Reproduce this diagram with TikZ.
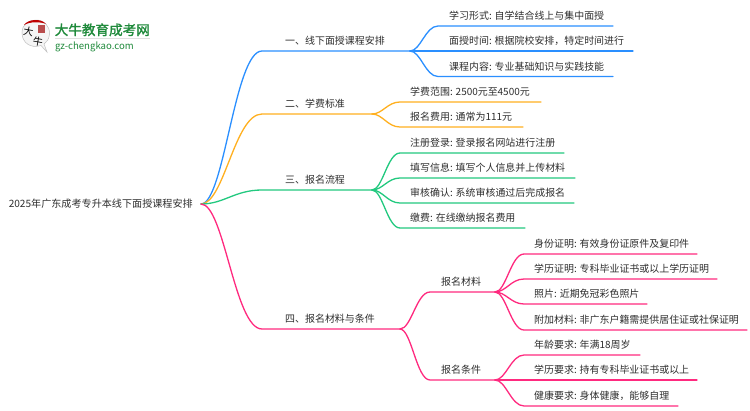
\documentclass[tikz,border=0pt]{standalone}
\usepackage{fontspec}
\setmainfont{Noto Sans CJK SC}
\definecolor{cblue}{HTML}{2A8FFF}
\definecolor{corange}{HTML}{FFB020}
\definecolor{cgreen}{HTML}{22C97F}
\definecolor{cpink}{HTML}{FF2A7F}
\definecolor{ctext}{HTML}{2E2E2E}
\definecolor{clogo}{HTML}{1F8A3B}
\usetikzlibrary{calc}
\tikzset{
  lab/.style={anchor=base west,inner sep=0pt,text=ctext,font=\fontsize{9.95}{12}\selectfont},
  wire/.style={line width=1.3pt,line cap=round,line join=round},
}
% #1 name, #2 colour, #3 fork node, #4 curve end x, #5 y, #6 line end x, #7 text x, #8 text
\newcommand\branch[8]{%
  \coordinate (#1s) at (#4,#5);
  \coordinate (#1e) at (#6,#5);
  \coordinate (#1p) at ($(#3)!0.38!(#1s)$);
  \coordinate (#1q) at ($(#3)!0.55!(#1s)$);
  \node[lab] (#1) at (#7,#5-6.5) {#8};
  \draw[wire,#2] (#3) .. controls (#1p |- #3) and (#1q |- #1s) .. (#1s) -- (#1e);
}
\begin{document}
\begin{tikzpicture}[x=1pt,y=-1pt]
\useasboundingbox (0,0) rectangle (750,410);
\fill[white] (0,0) rectangle (750,410);
% logo
\fill[black!4,draw=black!25,line width=.5pt] (47,52) -- (41,45.5) .. controls (30,49) and (22,42) .. (22,33) .. controls (22,24) and (29,20) .. (36,20) .. controls (44,20) and (50,26) .. (49.5,34) .. controls (49,39) and (47,42) .. (44,44) -- cycle;
\fill[red!75!black] (24,25) .. controls (28,19) and (41,18) .. (46,24) .. controls (40,21.5) and (30,21.5) .. (24,25) -- cycle;
\fill[red!60!black!70] (38,25) rectangle (45,33);
\node[inner sep=0pt,font=\fontsize{10}{12}\selectfont,rotate=-10] (logoa) at (28.5,31.5) {大};
\node[inner sep=0pt,font=\fontsize{10}{12}\selectfont,rotate=-10] (logob) at (38,41.5) {牛};
\node[anchor=base west,inner sep=0pt,text=clogo,font=\fontsize{13.6}{14}\selectfont\addfontfeature{FakeBold=1.5}] (logoc) at (54.5,35) {大牛教育成考网};
\draw[black!12,line width=.8pt] (55,38.5) -- (150,38.5);
\node[anchor=base west,inner sep=0pt,text=clogo,font=\fontsize{9.6}{10}\selectfont] (logod) at (55,49) {gz-chengkao.com};
% root
\node[lab,anchor=base east,font=\fontsize{10.1}{12}\selectfont] (root) at (193,207.5) {2025年广东成考专升本线下面授课程安排};
\coordinate (r) at (201,204);
% level 1
\branch{b1}{cblue}{r}{262}{51}{410}{285}{一、线下面授课程安排}
\branch{b2}{corange}{r}{262}{114}{372}{285}{二、学费标准}
\branch{b3}{cgreen}{r}{262}{190}{372}{285}{三、报名流程}
\branch{b4}{cpink}{r}{262}{329}{400}{285}{四、报名材料与条件}
% leaves
\branch{a1}{cblue}{b1e}{438}{26}{613}{449}{学习形式: 自学结合线上与集中面授}
\branch{a2}{cblue}{b1e}{438}{51}{633}{449}{面授时间: 根据院校安排，特定时间进行}
\branch{a3}{cblue}{b1e}{438}{76.5}{613}{449}{课程内容: 专业基础知识与实践技能}
\branch{c1}{corange}{b2e}{400}{102}{541}{410}{学费范围: 2500元至4500元}
\branch{c2}{corange}{b2e}{400}{127}{523}{410}{报名费用: 通常为111元}
\branch{d1}{cgreen}{b3e}{400}{153}{564}{410}{注册登录: 登录报名网站进行注册}
\branch{d2}{cgreen}{b3e}{400}{178}{575}{410}{填写信息: 填写个人信息并上传材料}
\branch{d3}{cgreen}{b3e}{400}{203}{574}{410}{审核确认: 系统审核通过后完成报名}
\branch{d4}{cgreen}{b3e}{400}{228}{525}{410}{缴费: 在线缴纳报名费用}
\branch{e1}{cpink}{b4e}{430}{292}{495}{441}{报名材料}
\branch{e2}{cpink}{b4e}{430}{380}{495}{441}{报名条件}
\branch{f1}{cpink}{e1e}{524}{254}{697}{534}{身份证明: 有效身份证原件及复印件}
\branch{f2}{cpink}{e1e}{524}{279}{717}{534}{学历证明: 专科毕业证书或以上学历证明}
\branch{f3}{cpink}{e1e}{524}{304}{647}{534}{照片: 近期免冠彩色照片}
\branch{f4}{cpink}{e1e}{524}{330}{747}{534}{附加材料: 非广东户籍需提供居住证或社保证明}
\branch{g1}{cpink}{e2e}{524}{355}{640}{534}{年龄要求: 年满18周岁}
\branch{g2}{cpink}{e2e}{524}{380}{697}{534}{学历要求: 持有专科毕业证书或以上}
\branch{g3}{cpink}{e2e}{524}{406}{678}{534}{健康要求: 身体健康，能够自理}
\end{tikzpicture}
\end{document}
